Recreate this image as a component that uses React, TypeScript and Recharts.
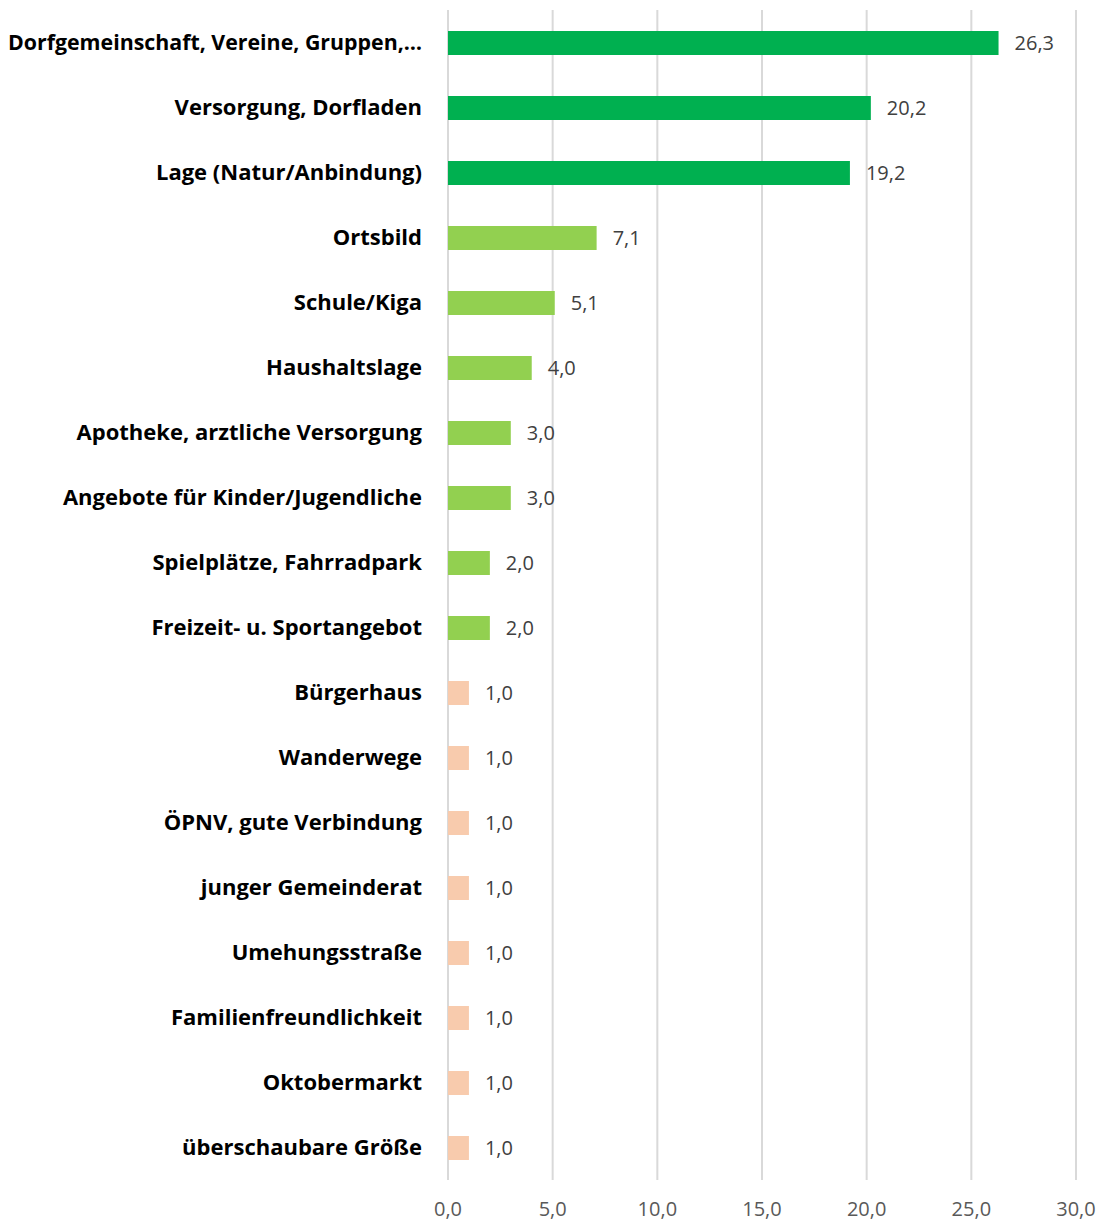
import { BarChart, Bar, XAxis, YAxis, CartesianGrid, Cell, LabelList } from "recharts";

const categories = [
  "Dorfgemeinschaft, Vereine, Gruppen,…",
  "Versorgung, Dorfladen",
  "Lage (Natur/Anbindung)",
  "Ortsbild",
  "Schule/Kiga",
  "Haushaltslage",
  "Apotheke, arztliche Versorgung",
  "Angebote für Kinder/Jugendliche",
  "Spielplätze, Fahrradpark",
  "Freizeit- u. Sportangebot",
  "Bürgerhaus",
  "Wanderwege",
  "ÖPNV, gute Verbindung",
  "junger Gemeinderat",
  "Umehungsstraße",
  "Familienfreundlichkeit",
  "Oktobermarkt",
  "überschaubare Größe",
];

const values = [26.3, 20.2, 19.2, 7.1, 5.1, 4.0, 3.0, 3.0, 2.0, 2.0, 1.0, 1.0, 1.0, 1.0, 1.0, 1.0, 1.0, 1.0];

// 0 = top answers, 1 = mid, 2 = single mentions
const groups = [0, 0, 0, 1, 1, 1, 1, 1, 1, 1, 2, 2, 2, 2, 2, 2, 2, 2];
const groupColors = ["#00B050", "#92D050", "#F8CBAD"];

const xTicks = [0, 5, 10, 15, 20, 25, 30];

const data = categories.map((name, i) => ({ name, value: values[i], group: groups[i] }));

const fmt = (v: number) => v.toFixed(1).replace(".", ",");

const font = "'Open Sans', sans-serif";

// the first label is wider in Open Sans than in the original font, squeeze it a bit
const CategoryTick = (props: any) => {
  const { x, y, payload } = props;
  const long = payload.value.length > 32;
  return (
    <text
      x={x}
      y={y}
      dy="0.355em"
      textAnchor="end"
      fill="#000"
      fontSize={22}
      fontWeight="bold"
      fontFamily={font}
      {...(long ? { textLength: 414, lengthAdjust: "spacingAndGlyphs" } : {})}
    >
      {payload.value}
    </text>
  );
};

export default function App() {
  return (
    <div style={{ position: "absolute", left: 0, top: 0, width: 1103, height: 1222, background: "#fff" }}>
      <BarChart
        width={1103}
        height={1222}
        data={data}
        layout="vertical"
        margin={{ top: 10, right: 27, bottom: 0, left: 0 }}
        barCategoryGap={0}
      >
        <CartesianGrid horizontal={false} stroke="#d9d9d9" strokeWidth={2} />
        <XAxis
          type="number"
          domain={[0, 30]}
          ticks={xTicks}
          tickFormatter={fmt}
          axisLine={false}
          tickLine={false}
          tickSize={0}
          tickMargin={22}
          height={42}
          tick={{ fill: "#595959", fontSize: 20, fontFamily: font }}
          interval={0}
        />
        <YAxis
          type="category"
          dataKey="name"
          width={448}
          axisLine={false}
          tickLine={false}
          tickSize={0}
          tickMargin={26}
          interval={0}
          tick={<CategoryTick />}
        />
        <Bar dataKey="value" barSize={24} isAnimationActive={false}>
          {data.map((d, i) => (
            <Cell key={i} fill={groupColors[d.group]} />
          ))}
          <LabelList
            dataKey="value"
            position="right"
            offset={16}
            formatter={(v: any) => fmt(Number(v))}
            style={{ fill: "#404040", fontSize: 20, fontFamily: font }}
          />
        </Bar>
      </BarChart>
    </div>
  );
}
